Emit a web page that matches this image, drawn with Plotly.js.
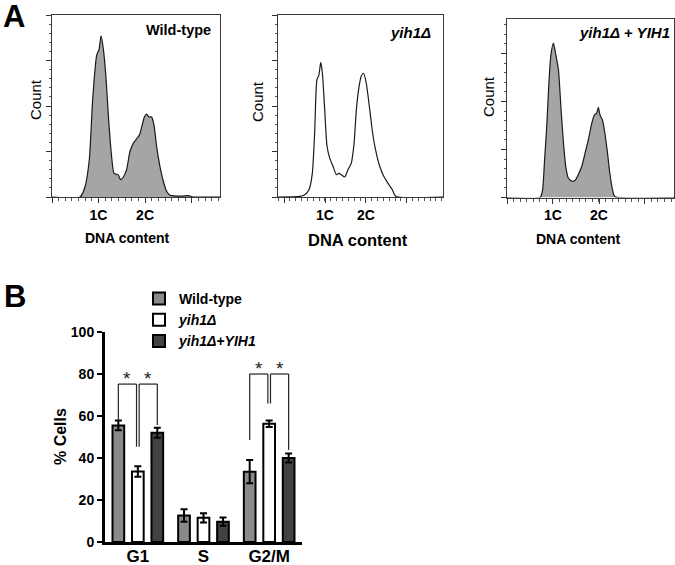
<!DOCTYPE html>
<html>
<head>
<meta charset="utf-8">
<script src="https://cdn.plot.ly/plotly-3.0.1.min.js"></script>
<style>
  html, body { margin: 0; padding: 0; background: #fff; }
  #chart { width: 675px; height: 565px; }
</style>
</head>
<body>
<div id="chart"></div>
<script>
// Panel A - DNA content histograms (channel 0-1000 across each frame)
var wtChannel = [0, 167, 196, 222, 242, 266, 280, 292, 306, 321, 337, 355, 369, 385, 395, 409, 425, 444, 464, 484, 504, 520, 534, 550, 563, 577, 593, 607, 623, 643, 663, 683, 702, 772, 812, 841, 1000];
var wtCount = [0, 0, 11, 41, 107, 156, 162, 177, 162, 132, 85, 44, 26, 25, 24, 19, 22, 30, 50, 59, 64, 68, 77, 88, 91, 88, 88, 79, 55, 33, 17, 6, 2, 1, 1.5, 0, 0];

var yihChannel = [0, 131, 162, 188, 208, 222, 236, 248, 259, 269, 283, 297, 313, 333, 354, 368, 384, 404, 424, 444, 461, 475, 491, 505, 519, 535, 556, 576, 596, 616, 640, 667, 693, 713, 1000];
var yihCount = [0, 0.7, 2.6, 8, 26, 70, 129, 134, 148, 136, 96, 56, 43, 34, 24.5, 26, 24.5, 22, 30, 37, 59, 96, 121, 133, 136, 125, 96, 67, 48, 34, 23, 15, 8, 0.7, 0];

var resChannel = [0, 199, 213, 225, 239, 252, 264, 278, 292, 308, 324, 338, 352, 368, 388, 408, 427, 447, 467, 487, 507, 523, 537, 547, 557, 571, 586, 602, 616, 632, 646, 1000];
var resCount = [0, 0, 8, 39, 77, 123, 150, 161, 149, 133, 91, 57, 32, 20, 17, 18, 24, 32, 46, 60, 77, 86, 88, 94, 86, 81, 67, 46, 25, 8, 1, 0];

var ploidyLabels = ['', '1C', '2C', ''];

// Panel B - % cells per cell cycle phase
var phases = ['G1', 'S', 'G2/M'];
var wtCells = [55.5, 12.6, 33.5];
var wtErr = [2.3, 3, 5.5];
var yihCells = [33.6, 11.5, 56.3];
var yihErr = [2.5, 2.2, 1.5];
var resCells = [52, 9.7, 40];
var resErr = [2.4, 2, 2.2];

var sans = '"Liberation Sans", Arial, sans-serif';
var W = 675, H = 565;
var bargap = 0.11;

function px(x) { return x / W; }
function py(y) { return 1 - y / H; }

function histTrace(xs, ys, n, fill) {
    return {
        x: xs, y: ys, xaxis: 'x' + n, yaxis: 'y' + n,
        type: 'scatter', mode: 'lines',
        line: { color: '#1a1a1a', width: 1.2, shape: 'spline', smoothing: 0.6 },
        fill: fill ? 'tozeroy' : 'none', fillcolor: fill || 'rgba(0,0,0,0)',
        showlegend: false, hoverinfo: 'skip'
    };
}

function histX(left, right, n, ticks, step) {
    return {
        domain: [px(left), px(right)], anchor: 'y' + n, range: [0, 1000],
        showgrid: false, zeroline: false, showline: true, mirror: true,
        linecolor: '#3a3a3a', linewidth: 1,
        ticks: 'outside', ticklen: 5, tickcolor: '#333',
        tickmode: 'array', tickvals: ticks, ticktext: ploidyLabels,
        tickfont: { family: sans, size: 14, weight: 'bold', color: '#000' },
        minor: { ticks: 'outside', ticklen: 3, tickcolor: '#555', tickmode: 'linear', tick0: ticks[0], dtick: step },
        fixedrange: true
    };
}

function histY(top, bottom, n, maxCount) {
    return {
        domain: [py(bottom), py(top)], anchor: 'x' + n, range: [0, maxCount],
        showgrid: false, zeroline: false, showline: true, mirror: true,
        linecolor: '#3a3a3a', linewidth: 1,
        ticks: 'outside', ticklen: 5, tickcolor: '#333', tick0: 0, dtick: 50,
        showticklabels: false,
        minor: { ticks: 'outside', ticklen: 2.5, tickcolor: '#555', dtick: 10 },
        fixedrange: true
    };
}

function barTrace(name, vals, errs, color) {
    return {
        x: phases, y: vals, name: name, type: 'bar', xaxis: 'x4', yaxis: 'y4',
        marker: { color: color, line: { color: '#000', width: 2 } },
        error_y: { type: 'data', array: errs, visible: true, color: '#000', thickness: 2, width: 3.5 },
        hoverinfo: 'skip'
    };
}

var data = [
    histTrace(wtChannel, wtCount, '', '#a5a5a5'),
    histTrace(yihChannel, yihCount, 2, null),
    histTrace(resChannel, resCount, 3, '#a5a5a5'),
    barTrace('Wild-type', wtCells, wtErr, '#8a8a8a'),
    barTrace('<i>yih1\u0394</i>', yihCells, yihErr, '#ffffff'),
    barTrace('<i>yih1\u0394</i>+<i>YIH1</i>', resCells, resErr, '#424242')
];

// significance brackets: bar index inside group, bracket height and where each leg stops
var slot = (1 - bargap) / 3;
var brackets = [
    { group: 0, a: 0, b: 1, top: 75.2, endA: 57.5, endB: 45.4 },
    { group: 0, a: 1, b: 2, top: 75.2, endA: 45.4, endB: 55.7 },
    { group: 2, a: 0, b: 1, top: 80, endA: 48.6, endB: 66 },
    { group: 2, a: 1, b: 2, top: 80, endA: 66, endB: 43.8 }
];

var shapes = [];
var annotations = [];
brackets.forEach(function (br) {
    var xa = br.group + (br.a - 1) * slot + (br.a === 1 ? 0.02 : 0);
    var xb = br.group + (br.b - 1) * slot - (br.b === 1 ? 0.02 : 0);
    var ln = { color: '#222', width: 1.2 };
    shapes.push({ type: 'line', xref: 'x4', yref: 'y4', x0: xa, x1: xa, y0: br.endA, y1: br.top, line: ln });
    shapes.push({ type: 'line', xref: 'x4', yref: 'y4', x0: xa, x1: xb, y0: br.top, y1: br.top, line: ln });
    shapes.push({ type: 'line', xref: 'x4', yref: 'y4', x0: xb, x1: xb, y0: br.endB, y1: br.top, line: ln });
    annotations.push({
        text: '*', xref: 'x4', yref: 'y4', x: (xa + xb) / 2, y: br.top, yanchor: 'bottom', yshift: -7,
        showarrow: false, font: { family: sans, size: 19, color: '#222' }
    });
});

function label(text, x, y, size, opts) {
    var a = {
        text: text, xref: 'paper', yref: 'paper', x: px(x), y: py(y),
        xanchor: 'center', yanchor: 'middle', showarrow: false,
        font: { family: sans, size: size, color: '#000', weight: 'bold' }
    };
    for (var k in opts) a[k] = opts[k];
    return a;
}

annotations.push(
    label('A', 14, 16, 31),
    label('B', 15, 296, 31),
    label('Wild-type', 213, 30, 14.5, { xanchor: 'right' }),
    label('<i>yih1\u0394</i>', 433, 32, 15, { xanchor: 'right' }),
    label('<i>yih1\u0394 + YIH1</i>', 672, 32, 15, { xanchor: 'right' }),
    label('Count', 35, 100, 15, { textangle: -90, font: { family: sans, size: 15, color: '#000' } }),
    label('Count', 258, 102, 15, { textangle: -90, font: { family: sans, size: 15, color: '#000' } }),
    label('Count', 488, 96, 15, { textangle: -90, font: { family: sans, size: 15, color: '#000' } }),
    label('DNA content', 127, 238, 14),
    label('DNA content', 358, 240, 16.5),
    label('DNA content', 578, 239, 14),
    label('% Cells', 60, 437, 16, { textangle: -90 })
);

var layout = {
    width: W, height: H,
    margin: { l: 0, r: 0, t: 0, b: 0 },
    paper_bgcolor: '#fff', plot_bgcolor: 'rgba(0,0,0,0)',
    showlegend: true,
    barmode: 'group', bargap: bargap, bargroupgap: 0.4,
    xaxis: histX(52, 220, '', [0, 277, 554, 831], 39.6),
    yaxis: histY(15, 197, '', 200),
    xaxis2: histX(278, 443, 2, [37, 285, 533, 781], 35.4),
    yaxis2: histY(15, 197, 2, 200),
    xaxis3: histX(507, 674, 3, [0, 275, 551, 826], 39.3),
    yaxis3: histY(19, 197.5, 3, 186),
    xaxis4: {
        domain: [px(105), px(302)], anchor: 'y4', range: [-0.5, 2.5],
        showgrid: false, zeroline: false, showline: true, linecolor: '#000', linewidth: 3,
        ticks: '', ticklabelstandoff: -3,
        tickfont: { family: sans, size: 17, weight: 'bold', color: '#000' },
        fixedrange: true
    },
    yaxis4: {
        domain: [py(542), py(332)], anchor: 'x4', range: [0, 100],
        showgrid: false, zeroline: false, showline: true, linecolor: '#000', linewidth: 3,
        ticks: 'outside', ticklen: 5, tickwidth: 2, tickcolor: '#000', dtick: 20,
        tickfont: { family: sans, size: 14, weight: 'bold', color: '#000' },
        fixedrange: true
    },
    legend: {
        x: px(139), y: py(283), xanchor: 'left', yanchor: 'top',
        bgcolor: 'rgba(0,0,0,0)', tracegroupgap: 0,
        font: { family: sans, size: 14, weight: 'bold', color: '#000' }
    },
    shapes: shapes,
    annotations: annotations
};

Plotly.newPlot('chart', data, layout, { displayModeBar: false, staticPlot: true });
</script>
</body>
</html>
